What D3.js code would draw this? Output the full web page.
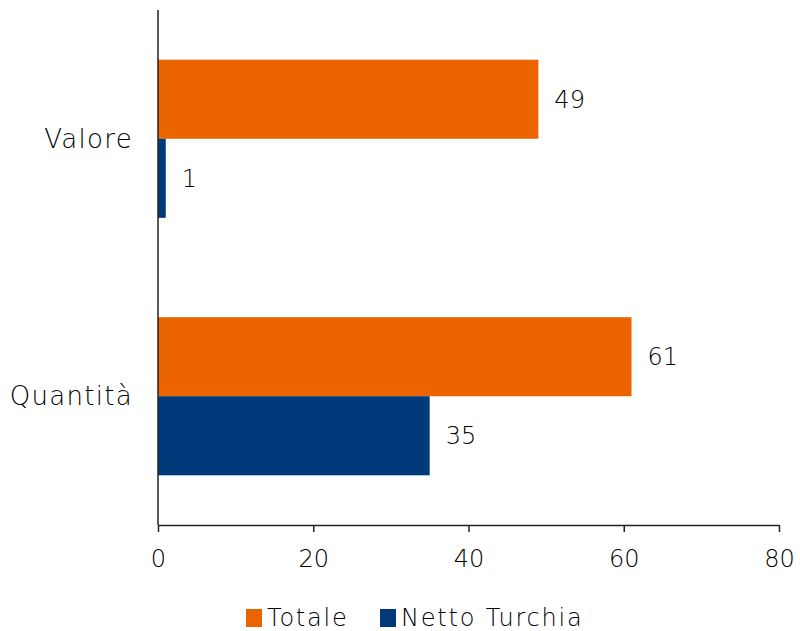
<!DOCTYPE html>
<html>
<head>
<meta charset="utf-8">
<script src="https://cdn.jsdelivr.net/npm/d3@7"></script>
<style>
  html, body { margin: 0; padding: 0; background: #fff; }
  svg text { font-family: "DejaVu Sans", "Lato", sans-serif; font-weight: 200; fill: #000; }
</style>
</head>
<body>
<svg id="chart" width="800" height="631"></svg>
<script>
// Categories, top to bottom
const categories = ["Valore", "Quantità"];
// Series names and colours
const seriesNames = ["Totale", "Netto Turchia"];
const seriesColors = ["#EB6400", "#003A7A"];
// Values per series, in category order
const totale = [49, 61];
const nettoTurchia = [1, 35];
const xTicks = [0, 20, 40, 60, 80];

const seriesValues = [totale, nettoTurchia];

const svg = d3.select("#chart");
const margin = { left: 158, right: 21, top: 10, bottom: 106 };
const W = 800, H = 631;
const plotW = W - margin.left - margin.right;
const plotH = H - margin.top - margin.bottom;

const g = svg.append("g").attr("transform", `translate(${margin.left},${margin.top})`);

const x = d3.scaleLinear().domain([0, 80]).range([0, plotW]);
const y0 = d3.scaleBand().domain(categories).range([0, plotH]).paddingInner(0.386).paddingOuter(0.193);
const y1 = d3.scaleBand().domain(seriesNames).range([0, y0.bandwidth()]);

const rows = categories.map((c, i) => ({
  cat: c,
  items: seriesNames.map((s, j) => ({ series: s, value: seriesValues[j][i], color: seriesColors[j] }))
}));

const groups = g.selectAll("g.cat").data(rows).join("g")
  .attr("class", "cat")
  .attr("transform", d => `translate(0,${y0(d.cat)})`);

groups.selectAll("rect").data(d => d.items).join("rect")
  .attr("x", x(0))
  .attr("y", d => y1(d.series))
  .attr("width", d => x(d.value) - x(0))
  .attr("height", y1.bandwidth())
  .attr("fill", d => d.color);

groups.selectAll("text.val").data(d => d.items).join("text")
  .attr("class", "val")
  .attr("x", d => x(d.value) + 16)
  .attr("y", d => y1(d.series) + y1.bandwidth() / 2)
  .attr("dy", "0.35em")
  .style("font-size", "24px")
  .text(d => d.value);

// Category labels
g.selectAll("text.cat").data(categories).join("text")
  .attr("class", "cat")
  .attr("x", -25)
  .attr("y", d => y0(d) + y0.bandwidth() / 2)
  .attr("dy", "0.35em")
  .attr("text-anchor", "end")
  .style("font-size", "26px")
  .style("letter-spacing", "1.3px")
  .text(d => d);

// X axis
const xAxis = g.append("g")
  .attr("transform", `translate(0,${plotH})`)
  .call(d3.axisBottom(x).tickValues(xTicks).tickSize(7).tickSizeOuter(0).tickPadding(18));
xAxis.select(".domain").attr("stroke", "#222").attr("stroke-width", 1.5);
xAxis.selectAll(".tick line").attr("stroke", "#222").attr("stroke-width", 1.5);
xAxis.selectAll(".tick text").style("font-size", "24px").attr("fill", "#000")
  .style("font-family", "'DejaVu Sans', Lato, sans-serif");

// Y axis line
g.append("line")
  .attr("x1", 0).attr("x2", 0)
  .attr("y1", 0).attr("y2", plotH)
  .attr("stroke", "#222").attr("stroke-width", 1.5);

// Legend
const legend = svg.append("g").attr("transform", "translate(246,618)");
const legendX = [0, 134];
seriesNames.forEach((s, i) => {
  const lg = legend.append("g").attr("transform", `translate(${legendX[i]},0)`);
  lg.append("rect").attr("x", 0).attr("y", -9).attr("width", 16).attr("height", 18).attr("fill", seriesColors[i]);
  lg.append("text").attr("x", 21).attr("y", 0).attr("dy", "0.35em")
    .style("font-size", "24px").style("letter-spacing", "1.8px").text(s);
});
</script>
</body>
</html>
